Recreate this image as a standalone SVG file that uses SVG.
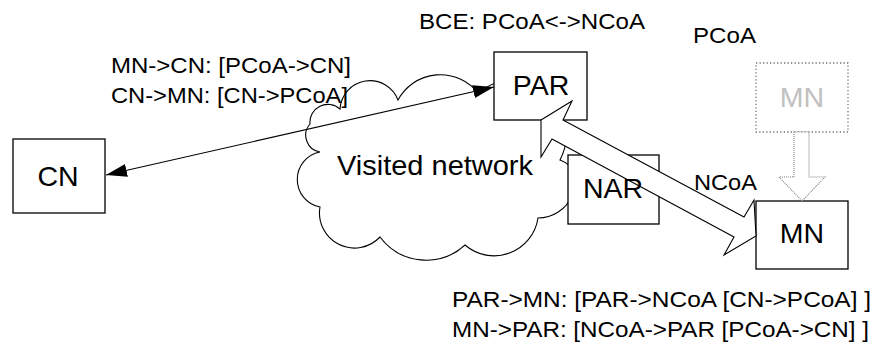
<svg xmlns="http://www.w3.org/2000/svg" width="875" height="344" viewBox="0 0 875 344">
  <style>
    text { font-family: "Liberation Sans", Arial, sans-serif; fill: #000; }
    .node rect { fill: #fff; stroke: #000; stroke-width: 1.3; }
    .lbl { font-size: 28.5px; text-anchor: middle; }
    .note { font-size: 22px; }
    .ghost rect { fill: #fff; stroke: #707070; stroke-width: 1.3; stroke-dasharray: 1.3 2.2; }
    .ghost text { fill: #c0c0c0; }
    .cloud { fill: #fff; stroke: #000; stroke-width: 1.1; }
    .link { fill: none; stroke: #000; stroke-width: 1.1; }
    .broad-fill { fill: #fff; stroke: none; }
    .broad-edge { fill: none; stroke: #000; stroke-width: 1.1; }
    .move { fill: #fff; stroke: #808080; stroke-width: 1.1; stroke-dasharray: 1 1; }
  </style>
  <defs>
    <marker id="head" viewBox="0 0 21 13" refX="21" refY="6.5" markerWidth="21" markerHeight="13"
            markerUnits="userSpaceOnUse" orient="auto-start-reverse">
      <path d="M0,0 L21,6.5 L0,13 z" fill="#000"/>
    </marker>
    <!-- tunnel arrow between PAR and MN, shared by its fill and its outline -->
    <polygon id="tunnel" points="541,120 572,101 563,120 744,217 754,200 756,236 724,255 734,237 552,139 541,157"/>
    <!-- keeps the NAR caption readable under the tunnel's white fill -->
    <mask id="narCaption">
      <rect width="875" height="344" fill="#fff"/>
      <rect x="618" y="170" width="32" height="32" fill="#000"/>
    </mask>
  </defs>

  <!-- access network cloud -->
  <g id="visited-network">
    <path class="cloud" d="M310,124 A18,18 0 0 1 340,109 A30,30 0 0 1 398,100 A48,48 0 0 1 478,93
             A54,54 0 0 1 560,160 A24,24 0 0 1 572,196 A37.2,37.2 0 0 1 538,218
             A44.4,44.4 0 0 1 465,245 A57.5,57.5 0 0 1 380,237 A35,35 0 0 1 320,207
             A28,28 0 0 1 320,152 A17,17 0 0 1 310,124 Z"/>
    <text x="337" y="175" style="font-size:28.5px" textLength="196" lengthAdjust="spacingAndGlyphs">Visited network</text>
  </g>

  <g id="CN" class="node">
    <rect x="13" y="139" width="92" height="74"/>
    <text class="lbl" x="58" y="186">CN</text>
  </g>

  <g id="PAR" class="node">
    <rect x="494" y="52" width="93" height="68"/>
    <text class="lbl" x="541" y="95">PAR</text>
  </g>

  <g id="NAR" class="node">
    <rect x="568" y="155" width="91" height="69"/>
    <text class="lbl" x="613" y="198">NAR</text>
  </g>

  <g id="MN" class="node">
    <rect x="756" y="201" width="92" height="68"/>
    <text class="lbl" x="802" y="243">MN</text>
  </g>

  <g id="MN-previous" class="ghost">
    <rect x="756" y="63" width="92" height="69"/>
    <text class="lbl" x="802" y="107">MN</text>
  </g>

  <g id="connectors">
    <!-- CN <-> PAR route optimisation path -->
    <line class="link" x1="106" y1="175" x2="494" y2="87" marker-start="url(#head)" marker-end="url(#head)"/>
    <!-- PAR <-> MN tunnel -->
    <use href="#tunnel" class="broad-fill" mask="url(#narCaption)"/>
    <use href="#tunnel" class="broad-edge"/>
    <!-- MN movement -->
    <polygon class="move" points="794,132 794,177 779,177 802,201 825,177 809,177 809,132"/>
  </g>

  <g id="annotations" class="note">
    <text x="419" y="29" textLength="226" lengthAdjust="spacingAndGlyphs">BCE: PCoA&lt;-&gt;NCoA</text>
    <text x="693" y="43" textLength="63" lengthAdjust="spacingAndGlyphs">PCoA</text>
    <text x="111" y="73" textLength="240" lengthAdjust="spacingAndGlyphs">MN-&gt;CN: [PCoA-&gt;CN]</text>
    <text x="111" y="103" textLength="237" lengthAdjust="spacingAndGlyphs">CN-&gt;MN: [CN-&gt;PCoA]</text>
    <text x="694" y="190" textLength="63" lengthAdjust="spacingAndGlyphs">NCoA</text>
    <text x="452" y="307" textLength="419" lengthAdjust="spacingAndGlyphs">PAR-&gt;MN: [PAR-&gt;NCoA [CN-&gt;PCoA] ]</text>
    <text x="452" y="337" textLength="417" lengthAdjust="spacingAndGlyphs">MN-&gt;PAR: [NCoA-&gt;PAR [PCoA-&gt;CN] ]</text>
  </g>
</svg>
